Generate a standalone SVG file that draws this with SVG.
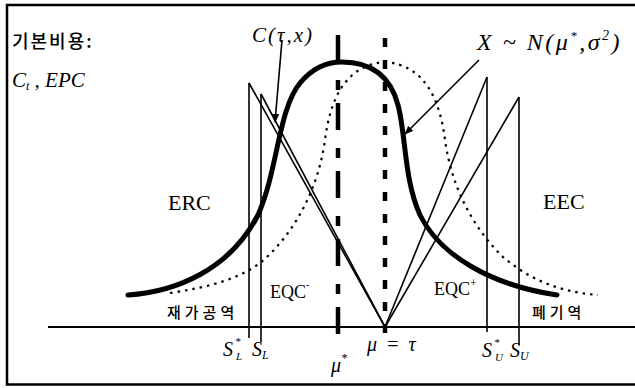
<svg xmlns="http://www.w3.org/2000/svg" width="635" height="388" viewBox="0 0 635 388">
<defs>
<style>
.frame{fill:none;stroke:#000;stroke-width:2.5}
.axis{fill:none;stroke:#000;stroke-width:2}
.thin{fill:none;stroke:#000;stroke-width:1.6}
.thick{fill:none;stroke:#000;stroke-width:5;stroke-linecap:round}
.dot{fill:none;stroke:#000;stroke-width:2.2;stroke-dasharray:2.5 5}
.mustar{fill:none;stroke:#000;stroke-width:4.5;stroke-dasharray:27 18 10 13}
.tau{fill:none;stroke:#000;stroke-width:4.5;stroke-dasharray:9 13}
.math{font-family:"Liberation Serif","Times New Roman",serif;font-style:italic;fill:#000}
.rm{font-family:"Liberation Serif","Times New Roman",serif;fill:#000}
.kr{font-family:"Noto Sans CJK KR","Noto Sans",sans-serif;font-weight:500;fill:#000}
</style>
<marker id="ah" viewBox="0 0 10 10" refX="9" refY="5" markerWidth="9" markerHeight="9" markerUnits="userSpaceOnUse" orient="auto">
<path d="M0,1 L10,5 L0,9 Z" fill="#000"/>
</marker>
</defs>
<rect x="0" y="0" width="635" height="388" fill="#fff"/>
<path class="frame" d="M635,5 H7 V384.5 H635"/>

<g id="axis">
<line class="axis" x1="48" y1="327" x2="635" y2="327"/>
</g>

<g id="curves">
<path id="normal" class="dot" d="M170,293 C210,287 245,278 267,257 C295,230 318,190 325,140 C330,100 345,65 385,62 C425,65 440,100 445,140 C452,190 475,230 503,257 C530,280 560,292 598,295"/>
<path id="cost" class="thick" d="M128,295 C175,292 230,270 258,215 C278,170 278,110 300,83 C315,65 330,62 342,62 C370,62 390,75 398,105 C406,135 404,180 420,215 C440,255 490,285 557,295"/>
</g>

<g id="means">
<line class="mustar" x1="338" y1="35" x2="338" y2="338"/>
<line class="tau" x1="385" y1="38" x2="385" y2="333"/>
</g>

<g id="limits">
<line class="thin" x1="249" y1="83" x2="249" y2="338"/>
<line class="thin" x1="261" y1="94" x2="261" y2="342"/>
<line class="thin" x1="487" y1="77" x2="487" y2="332"/>
<line class="thin" x1="519" y1="97" x2="519" y2="345"/>
</g>

<g id="connectors">
<line class="thin" x1="249" y1="83" x2="385" y2="327"/>
<line class="thin" x1="261" y1="94" x2="385" y2="327"/>
<line class="thin" x1="385" y1="327" x2="487" y2="77"/>
<line class="thin" x1="385" y1="327" x2="519" y2="97"/>
<line class="thin" x1="282" y1="40" x2="275" y2="122" marker-end="url(#ah)"/>
<line class="thin" x1="479" y1="60" x2="405" y2="134" marker-end="url(#ah)"/>
</g>

<g id="labels">
<text class="kr" x="12" y="48" font-size="18" letter-spacing="2">기본비용:</text>
<text class="math" x="12" y="87" font-size="21">C<tspan font-size="12" dy="3">t</tspan><tspan dy="-3"> , EPC</tspan></text>
<text class="math" x="252" y="42" font-size="21" letter-spacing="2">C(τ,x)</text>
<text class="math" x="477" y="50" font-size="24" letter-spacing="2.5">X ~ N(μ<tspan font-size="13" dy="-10">*</tspan><tspan dy="10">,σ</tspan><tspan font-size="14" dy="-10">2</tspan><tspan dy="10">)</tspan></text>
<text class="rm" x="168" y="210" font-size="22">ERC</text>
<text class="rm" x="543" y="209" font-size="22">EEC</text>
<text class="rm" x="270" y="298" font-size="18">EQC<tspan font-size="10" dy="-10">-</tspan></text>
<text class="rm" x="434" y="295" font-size="18">EQC<tspan font-size="12" dy="-8">+</tspan></text>
<text class="kr" x="167" y="318" font-size="15" letter-spacing="4">재가공역</text>
<text class="kr" x="532" y="318" font-size="15" letter-spacing="4">폐기역</text>
<text class="math" x="223" y="356" font-size="20">S</text>
<text class="math" x="235" y="345" font-size="11">*</text>
<text class="math" x="236" y="360" font-size="11">L</text>
<text class="math" x="252" y="356" font-size="20">S<tspan font-size="12" dy="3">L</tspan></text>
<text class="math" x="482" y="357" font-size="20">S</text>
<text class="math" x="494" y="346" font-size="11">*</text>
<text class="math" x="495" y="361" font-size="11">U</text>
<text class="math" x="510" y="357" font-size="20">S<tspan font-size="12" dy="3">U</tspan></text>
<text class="math" x="331" y="372" font-size="20">μ<tspan font-size="12" dy="-10">*</tspan></text>
<text class="math" x="367" y="351" font-size="20" letter-spacing="2">μ = τ</text>
</g>
</svg>
